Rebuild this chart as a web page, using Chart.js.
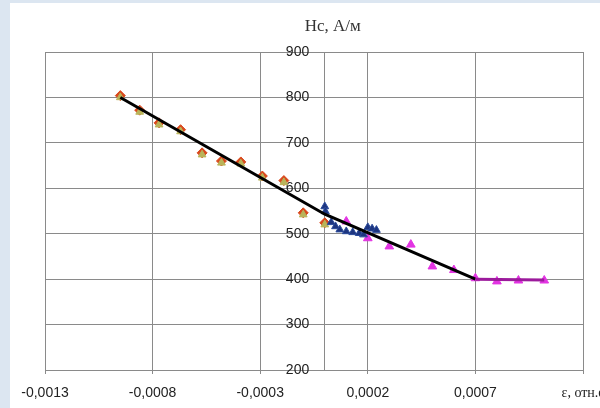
<!DOCTYPE html>
<html>
<head>
<meta charset="utf-8">
<script src="https://cdn.jsdelivr.net/npm/chart.js@4"></script>
<style>
  html, body { margin: 0; padding: 0; background: #dce6f1; }
  #wrap { position: absolute; left: 10px; top: 3px; right: 0; bottom: 0; background: #fff; }
  #box { position: absolute; left: 0; top: 0; width: 600px; height: 408px; }
</style>
</head>
<body>
<div id="wrap"></div>
<div id="box"><canvas id="myChart"></canvas></div>
<script>
// compression side (orange / olive markers)
let strainA = [-0.00095, -0.00086, -0.00077, -0.00067, -0.00057, -0.00048, -0.00039, -0.00029, -0.00019, -0.0001, 0];
let hcA = [800, 768, 740, 725, 674, 656, 654, 623, 613, 542, 520];

// small strains (dark blue)
let strainB = [0, 0.000003, 0.00003, 0.00005, 0.00007, 0.0001, 0.00013, 0.00016, 0.00018, 0.0002, 0.00022, 0.00024];
let hcB = [560, 549, 525, 516, 509, 505, 503, 501, 498, 514, 511, 508];

// tension side (magenta)
let strainC = [0.0001, 0.0002, 0.0003, 0.0004, 0.0005, 0.0006, 0.0007, 0.0008, 0.0009, 0.00102];
let hcC = [527, 490, 472, 476, 428, 420, 402, 395, 397, 397];

// fitted lines
let trendX = [-0.00095, 0, 0.0007];
let trendY = [800, 543, 400];
let flatX = [0.0007, 0.00102];
let flatY = [400, 398];

let xTicks = [-0.0013, -0.0008, -0.0003, 0.0002, 0.0007, 0.0012];
let yTicks = [200, 300, 400, 500, 600, 700, 800, 900];

const pts = (xs, ys) => xs.map((x, i) => ({x: x, y: ys[i]}));

const titlePlugin = {
    id: 'hcTitle',
    afterDraw(chart) {
        const ctx = chart.ctx;
        const x = chart.scales.x.getPixelForValue(0) + 8;
        ctx.save();
        ctx.font = '17px "Liberation Serif", "Times New Roman", serif';
        ctx.fillStyle = '#333';
        ctx.textAlign = 'center';
        ctx.textBaseline = 'middle';
        ctx.fillText('Hc, А/м', x, 27);
        ctx.restore();
    }
};

let myChart = document.getElementById('myChart').getContext('2d');

let chart = new Chart(myChart, {
    type: 'scatter',
    data: {
        datasets: [
            {
                data: pts(flatX, flatY),
                showLine: true,
                borderColor: '#9c1a9c',
                borderWidth: 3,
                pointRadius: 0
            },
            {
                data: pts(trendX, trendY),
                showLine: true,
                borderColor: '#000',
                borderWidth: 3,
                pointRadius: 0
            },
            {
                data: pts(strainB, hcB),
                pointStyle: 'triangle',
                pointRadius: 4.5,
                backgroundColor: '#1d3580',
                borderColor: '#2a4a9a',
                borderWidth: 1
            },
            {
                data: pts(strainC, hcC),
                pointStyle: 'triangle',
                pointRadius: 5,
                backgroundColor: '#e234e2',
                borderColor: '#e234e2',
                borderWidth: 1
            },
            {
                data: pts(strainA, hcA),
                pointStyle: 'triangle',
                pointRadius: 4.5,
                backgroundColor: '#b9b45a',
                borderColor: '#b9b45a',
                borderWidth: 1
            },
            {
                data: pts(strainA, hcA.map(v => v + 4)),
                pointStyle: 'rectRot',
                pointRadius: 5,
                backgroundColor: '#d9481c',
                borderColor: '#d9481c',
                borderWidth: 1
            }
        ]
    },
    options: {
        animation: false,
        responsive: true,
        maintainAspectRatio: false,
        layout: {
            padding: {left: 45, right: 17, top: 52, bottom: 6}
        },
        plugins: {
            legend: {display: false},
            tooltip: {enabled: false}
        },
        scales: {
            x: {
                type: 'linear',
                min: -0.0013,
                max: 0.0012,
                afterFit: s => { s.paddingLeft = 0; s.paddingRight = 0; s.height = 32; },
                afterBuildTicks: s => { s.ticks = xTicks.map(v => ({value: v})); },
                grid: {color: '#8a8a8a', lineWidth: 1, tickLength: 4},
                border: {color: '#8a8a8a'},
                ticks: {
                    autoSkip: false,
                    maxRotation: 0,
                    padding: 11,
                    color: '#222',
                    font: ctx => ctx.index === xTicks.length - 1
                        ? {family: '"Liberation Serif", serif', size: 14}
                        : {family: '"Liberation Sans", Arial, sans-serif', size: 14},
                    callback: (v, i) => i === xTicks.length - 1 ? '   ε, отн.ед.' : xTicks[i].toFixed(4).replace('.', ',')
                }
            },
            y: {
                position: {x: 0},
                min: 200,
                max: 900,
                afterBuildTicks: s => { s.ticks = yTicks.map(v => ({value: v})); },
                grid: {color: '#8a8a8a', lineWidth: 1, drawTicks: false},
                border: {color: '#8a8a8a'},
                ticks: {
                    color: '#222',
                    font: {family: '"Liberation Sans", Arial, sans-serif', size: 14},
                    callback: v => v + '    '
                }
            }
        }
    },
    plugins: [titlePlugin]
});
</script>
</body>
</html>
